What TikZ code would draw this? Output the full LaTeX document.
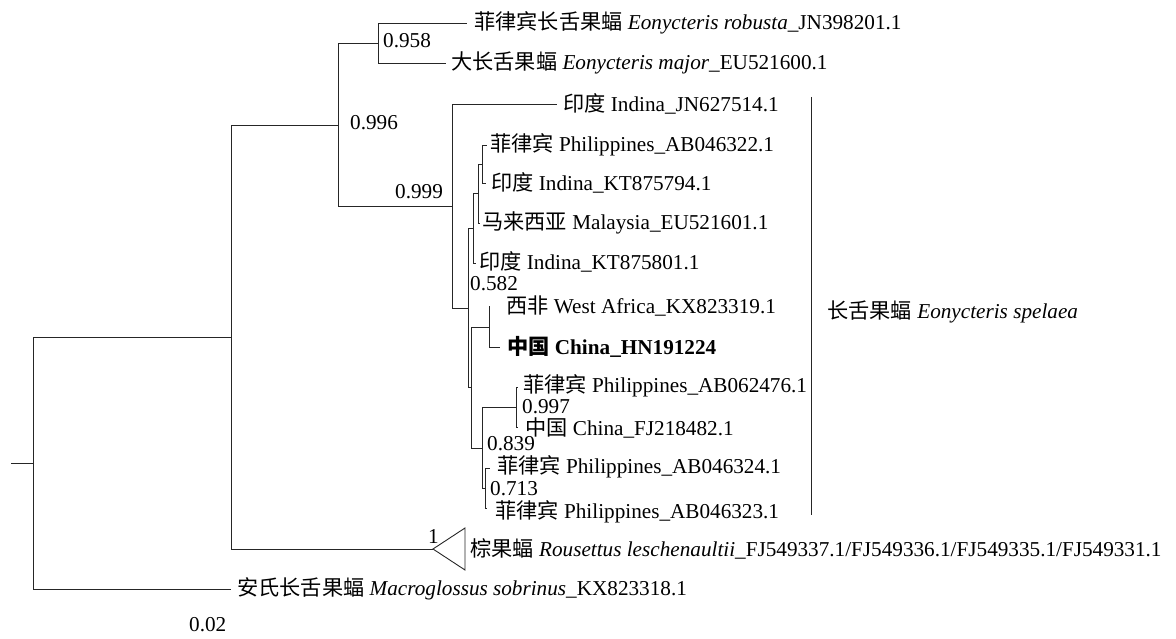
\documentclass[tikz,border=0pt]{standalone}
\usepackage{fontspec}
\setmainfont{Liberation Serif}
\newfontfamily\cjk{Noto Sans CJK SC}
\newcommand\zh[1]{{\cjk #1}}
\begin{document}
\begin{tikzpicture}[x=1pt,y=-1pt,
  br/.style={line width=0.9pt, draw=black!85},
  lab/.style={anchor=west, inner sep=0pt, font=\fontsize{21.2}{25}\selectfont}]
\useasboundingbox (0,0) rectangle (1176,639);
% internal nodes
\coordinate (stub) at (11,463);
\coordinate (r) at (33,463);
\coordinate (n1) at (231,337);
\coordinate (n2) at (338,125);
\coordinate (n3) at (378,43);
\coordinate (A) at (452,206);
\coordinate (B) at (468,308);
\coordinate (F) at (473,228);
\coordinate (E) at (478,193);
\coordinate (D) at (482,164);
\coordinate (G) at (471,387);
\coordinate (H) at (489,327);
\coordinate (I) at (482,448);
\coordinate (J) at (516,407);
\coordinate (K) at (485,488);
% leaf tips
\coordinate (t1) at (467,23);
\coordinate (t2) at (446,63);
\coordinate (t3) at (557,104);
\coordinate (t4) at (487,145);
\coordinate (t5) at (486,183);
\coordinate (t6) at (480,223);
\coordinate (t7) at (476,263);
\coordinate (t8) at (489,306);
\coordinate (t9) at (500,347);
\coordinate (t10) at (518,387);
\coordinate (t11) at (518,427);
\coordinate (t12) at (490,468);
\coordinate (t13) at (487,508);
\coordinate (rap) at (433,549);
\coordinate (rt) at (465,528);
\coordinate (rb) at (465,570);
\coordinate (mt) at (231,589);
\coordinate (cbT) at (811,97);
\coordinate (cbB) at (811,515);
% branches
\draw[br] (stub) -- (r);
\draw[br] (r) |- (n1); \draw[br] (r) |- (mt);
\draw[br] (n1) |- (n2); \draw[br] (n1) |- (rap);
\draw[br] (n2) |- (n3); \draw[br] (n2) |- (A);
\draw[br] (n3) |- (t1); \draw[br] (n3) |- (t2);
\draw[br] (A) |- (t3); \draw[br] (A) |- (B);
\draw[br] (B) |- (F); \draw[br] (B) |- (G);
\draw[br] (F) |- (E); \draw[br] (F) |- (t7);
\draw[br] (E) |- (D); \draw[br] (E) |- (t6);
\draw[br] (D) |- (t4); \draw[br] (D) |- (t5);
\draw[br] (G) |- (H); \draw[br] (G) |- (I);
\draw[br] (H) |- (t8); \draw[br] (H) |- (t9);
\draw[br] (I) |- (J); \draw[br] (I) |- (K);
\draw[br] (J) |- (t10); \draw[br] (J) |- (t11);
\draw[br] (K) |- (t12); \draw[br] (K) |- (t13);
\draw[br] (rap) -- (rt) -- (rb) -- cycle;
\draw[br] (cbT) -- (cbB);
% leaf labels
\node[lab] (L1) at (474,23) {\zh{菲律宾长舌果蝠} \textit{Eonycteris robusta}\_JN398201.1};
\node[lab] (L2) at (451,63) {\zh{大长舌果蝠} \textit{Eonycteris major}\_EU521600.1};
\node[lab] (L3) at (563,104) {\zh{印度} Indina\_JN627514.1};
\node[lab] (L4) at (490,145) {\zh{菲律宾} Philippines\_AB046322.1};
\node[lab] (L5) at (491,183) {\zh{印度} Indina\_KT875794.1};
\node[lab] (L6) at (482,223) {\zh{马来西亚} Malaysia\_EU521601.1};
\node[lab] (L7) at (479,262) {\zh{印度} Indina\_KT875801.1};
\node[lab] (L8) at (506,306) {\zh{西非} West Africa\_KX823319.1};
\node[lab] (L9) at (507,347) {\textbf{\zh{中国} China\_HN191224}};
\node[lab] (L10) at (523,386) {\zh{菲律宾} Philippines\_AB062476.1};
\node[lab] (L11) at (525,428) {\zh{中国} China\_FJ218482.1};
\node[lab] (L12) at (497,467) {\zh{菲律宾} Philippines\_AB046324.1};
\node[lab] (L13) at (495,512) {\zh{菲律宾} Philippines\_AB046323.1};
\node[lab] (L14) at (470,549) {\zh{棕果蝠} \textit{Rousettus leschenaultii}\_FJ549337.1/FJ549336.1/FJ549335.1/FJ549331.1};
\node[lab] (L15) at (237,589) {\zh{安氏长舌果蝠} \textit{Macroglossus sobrinus}\_KX823318.1};
\node[lab] (Lc) at (827,312) {\zh{长舌果蝠} \textit{Eonycteris spelaea}};
% support values
\node[lab] (s1) at (383,41) {0.958};
\node[lab] (s2) at (350,123) {0.996};
\node[lab] (s3) at (395,192) {0.999};
\node[lab] (s4) at (470,284) {0.582};
\node[lab] (s5) at (522,407) {0.997};
\node[lab] (s6) at (487,444) {0.839};
\node[lab] (s7) at (490,489) {0.713};
\node[lab] (s8) at (428,536) {1};
\node[lab] (sc) at (189,625) {0.02};
\end{tikzpicture}
\end{document}
